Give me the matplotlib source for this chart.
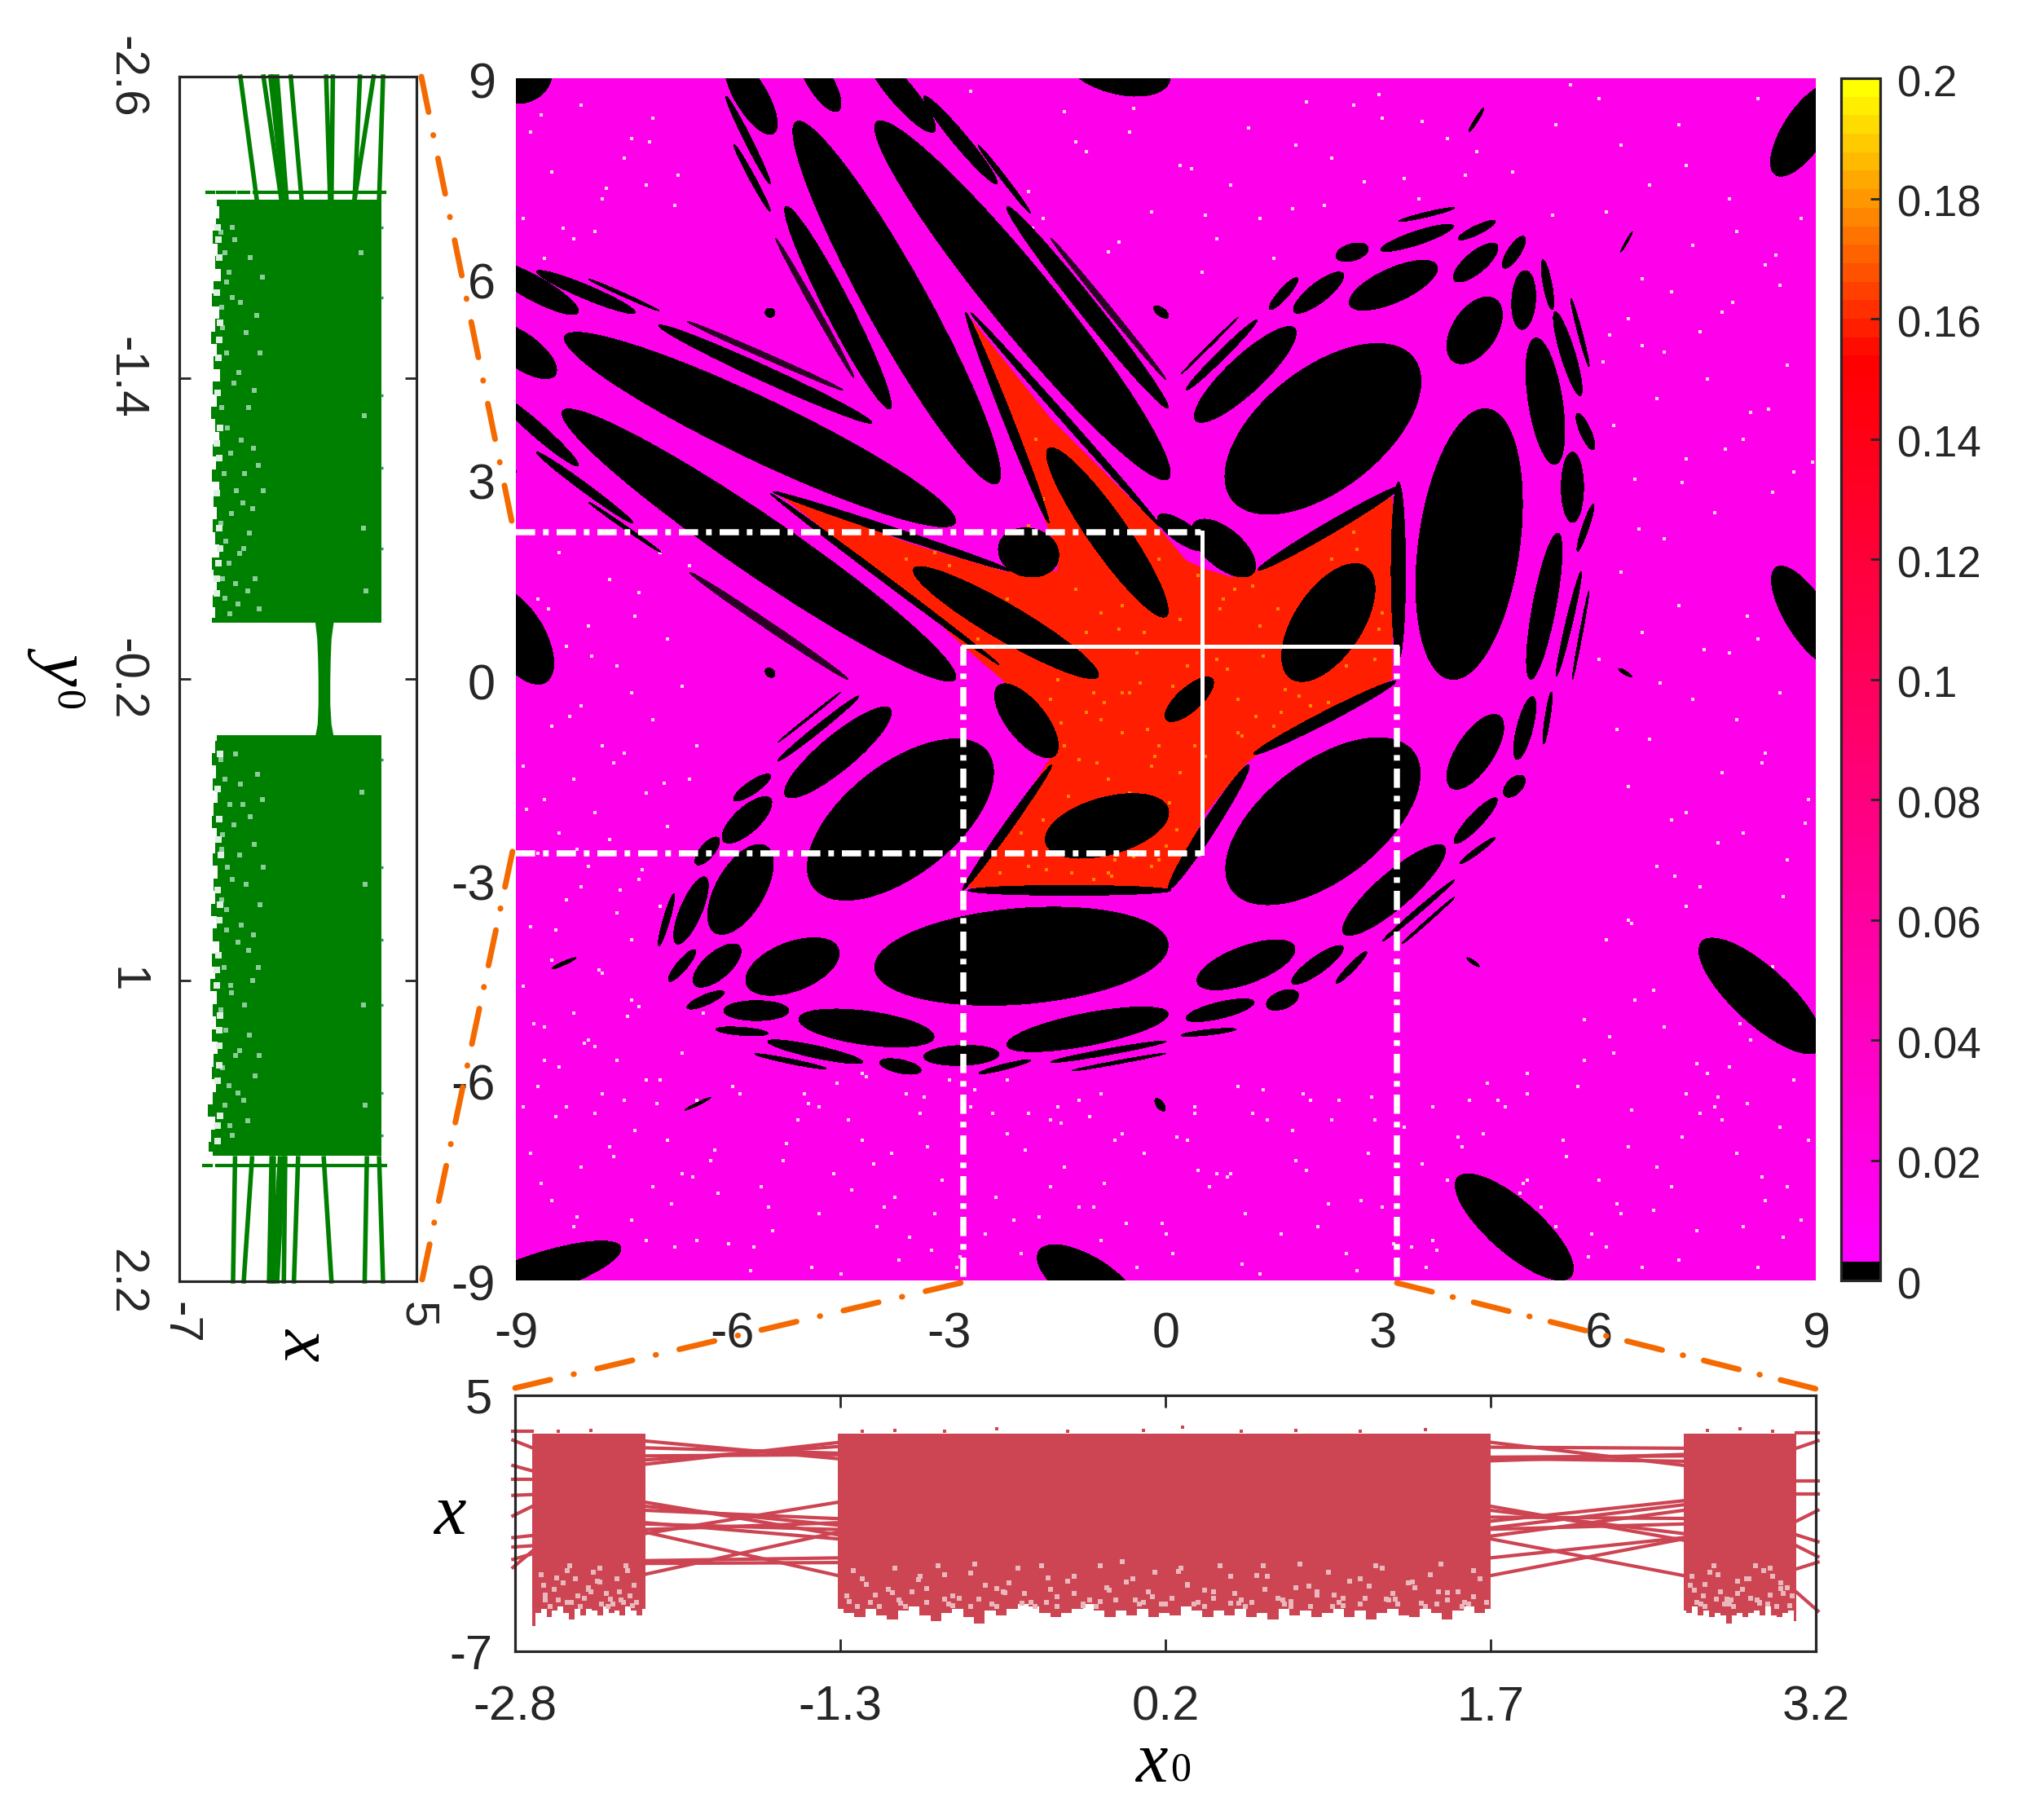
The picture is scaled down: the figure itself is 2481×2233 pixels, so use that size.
import numpy as np
import matplotlib
matplotlib.use("Agg")
import matplotlib.pyplot as plt
from matplotlib.cm import ScalarMappable
from matplotlib.colors import LinearSegmentedColormap, Normalize
from matplotlib.lines import Line2D
from matplotlib.patches import Ellipse, Polygon
from matplotlib.transforms import ScaledTranslation

plt.rcParams['font.family'] = ['Liberation Sans', 'DejaVu Sans']
plt.rcParams['mathtext.fontset'] = 'custom'
plt.rcParams['mathtext.it'] = 'Liberation Serif:italic'
plt.rcParams['mathtext.rm'] = 'Liberation Serif'
plt.rcParams['lines.scale_dashes'] = False

W, H = 2481, 2233
DARK = '#262626'
GREEN = '#008000'
ROSE = '#CD4452'
ORANGE = '#F56A00'

# ---- main map values
chaotic_value = 0.016
island_value = 0.0
attractor_value = 0.159
noise_value = 0.176

# periodic islands: x1, y1, x2, y2 (ends of long axis), full minor width
islands_upper = [
    (-5.115, 8.35, -2.34, 2.93, 0.85), (-4.0, 8.35, 0.03, 3.0, 0.9),
    (-5.26, 7.08, -3.82, 4.05, 0.36), (-3.35, 8.73, -2.34, 7.42, 0.2),
    (-2.6, 8.0, -1.875, 6.98, 0.07), (-6.05, 9.3, -5.44, 8.17, 0.45),
    (-6.09, 8.73, -5.48, 7.42, 0.1), (-5.98, 8.01, -5.48, 7.01, 0.08),
    (-5.04, 9.4, -4.54, 8.51, 0.35), (-4.14, 9.4, -3.21, 8.2, 0.35),
    (-1.4, 9.4, 0.05, 8.95, 0.8), (-9.4, 9.15, -8.5, 9.05, 0.95),
    (-2.2, 7.08, 0.03, 4.06, 0.26),
    (-8.71, 6.11, -7.35, 5.49, 0.2), (-7.99, 5.99, -7.02, 5.52, 0.05),
    (-9.4, 6.25, -8.14, 5.49, 0.35), (-8.32, 5.14, -2.92, 2.34, 0.9),
    (-7.02, 5.3, -4.07, 3.84, 0.22),
    (-8.35, 4.02, -2.92, 0.0, 0.85), (-9.4, 5.3, -8.46, 4.55, 0.5),
    (-9.3, 4.3, -8.14, 3.2, 0.2), (-8.71, 3.4, -7.38, 2.34, 0.12),
    (-7.99, 2.65, -6.99, 1.9, 0.05),
    (-9.35, 1.35, -8.6, -0.05, 0.75), (-9.3, 3.4, -9.0, 3.1, 0.1),
]
islands_hatched = [
    (-1.59, 6.6, 0.0, 4.49, 0.08), (-5.4, 6.6, -4.32, 4.52, 0.08),
    (-6.63, 5.36, -4.47, 4.33, 0.08), (-6.59, 1.6, -4.4, 0.0, 0.11),
]
islands_attractor = [
    (-1.62, 3.46, 0.0, 0.94, 0.55), (-3.49, 1.66, -0.94, 0.04, 0.52),
    (-2.3, 2.05, -1.5, 1.75, 0.72), (0.4, 2.35, 1.2, 1.58, 0.55),
    (-0.1, 2.45, 0.55, 1.95, 0.3),
    (1.75, 0.0, 2.75, 1.7, 0.95), (0.01, -0.61, 0.64, 0.01, 0.34),
    (-1.66, -2.46, 0.03, -1.93, 0.85), (-2.31, -0.09, -1.55, -1.15, 0.55),
    (1.28, 1.64, 3.25, 2.89, 0.17), (3.22, 2.95, 3.22, 0.3, 0.2),
    (1.22, -1.12, 3.18, -0.03, 0.17), (0.04, -3.14, 1.15, -1.28, 0.2),
    (-2.74, -3.16, 0.07, -3.16, 0.15), (-2.81, -3.15, -1.58, -1.28, 0.12),
    (-2.77, 5.49, -1.62, 2.34, 0.13), (-2.7, 5.49, -0.07, 2.28, 0.1),
    (-5.44, 2.81, -2.13, 1.62, 0.12), (-5.47, 2.78, -2.31, 0.22, 0.09),
]
islands_right = [
    (0.95, 2.65, 3.4, 4.85, 1.75), (4.45, 4.05, 3.95, 0.0, 1.4),
    (0.95, -3.2, 3.4, -1.05, 1.7), (0.42, 3.87, 1.78, 5.26, 0.52),
    (0.28, 4.33, 1.26, 5.38, 0.12), (0.21, 4.57, 1.0, 5.42, 0.03),
    (2.55, 5.6, 3.75, 6.2, 0.5), (1.78, 5.5, 2.45, 6.08, 0.28),
    (1.44, 5.54, 1.82, 6.01, 0.14), (2.36, 6.32, 2.8, 6.47, 0.25),
    (2.98, 6.43, 3.98, 6.79, 0.2), (3.23, 6.86, 4.0, 7.06, 0.07),
    (4.05, 6.59, 4.56, 6.86, 0.13), (4.0, 5.97, 4.58, 6.51, 0.3),
    (4.68, 6.16, 4.96, 6.63, 0.18), (4.0, 4.75, 4.55, 5.7, 0.62),
    (4.93, 5.24, 4.98, 6.12, 0.33), (5.22, 6.28, 5.35, 5.54, 0.12),
    (5.39, 5.5, 5.74, 4.25, 0.2), (5.61, 5.7, 5.86, 4.68, 0.06),
    (5.12, 5.11, 5.39, 3.22, 0.47), (5.7, 3.98, 5.92, 3.44, 0.15),
    (5.63, 3.4, 5.63, 2.35, 0.31), (5.7, 1.92, 5.92, 2.62, 0.09),
    (5.05, 0.0, 5.43, 2.19, 0.32), (5.41, 0.05, 5.75, 1.61, 0.09),
    (5.63, 0.0, 5.86, 1.33, 0.04), (4.86, -1.2, 5.08, -0.26, 0.22),
    (5.23, -0.97, 5.34, -0.19, 0.07), (3.96, -1.63, 4.61, -0.54, 0.52),
    (4.7, -1.75, 4.95, -1.45, 0.22), (4.0, -2.45, 4.58, -1.78, 0.2),
    (4.07, -2.76, 4.56, -2.37, 0.08), (2.47, -3.81, 3.85, -2.5, 0.5),
    (3.0, -3.92, 4.0, -3.0, 0.07), (3.27, -3.96, 4.0, -3.26, 0.04),
    (0.44, -4.55, 1.78, -4.0, 0.55), (1.75, -4.55, 2.45, -4.0, 0.24),
    (2.36, -4.55, 2.78, -4.08, 0.1),
]
islands_lower = [
    (-4.85, -3.15, -2.5, -1.05, 1.6), (-4.03, -4.33, 0.03, -3.96, 1.43),
    (-5.26, -1.75, -3.82, -0.44, 0.5), (-5.37, -1.22, -4.25, -0.25, 0.1),
    (-5.37, -0.94, -4.5, -0.19, 0.03), (-5.98, -1.81, -5.48, -1.43, 0.18),
    (-6.12, -2.43, -5.48, -1.78, 0.36), (-6.5, -2.77, -6.2, -2.37, 0.2),
    (-6.23, -3.8, -5.55, -2.49, 0.68), (-6.77, -3.96, -6.38, -2.96, 0.3),
    (-7.02, -3.99, -6.81, -3.21, 0.09), (-6.88, -4.52, -6.52, -4.05, 0.15),
    (-6.52, -4.58, -5.91, -3.99, 0.38), (-5.8, -4.58, -4.54, -4.02, 0.72),
    (-6.63, -4.92, -6.12, -4.68, 0.15), (-6.12, -4.96, -5.22, -4.96, 0.3),
    (-5.08, -5.08, -3.21, -5.36, 0.5), (-6.23, -5.24, -5.51, -5.3, 0.12),
    (-5.51, -5.42, -4.2, -5.73, 0.18), (-5.69, -5.61, -4.7, -5.83, 0.07),
    (-3.96, -5.73, -3.39, -5.86, 0.2), (-3.35, -5.65, -2.31, -5.61, 0.3),
    (-2.59, -5.9, -1.87, -5.7, 0.08), (-2.2, -5.48, 0.03, -5.0, 0.48),
    (-1.59, -5.73, 0.0, -5.42, 0.09), (-1.3, -5.86, 0.0, -5.6, 0.05),
    (0.21, -5.33, 0.97, -5.24, 0.08), (0.28, -5.08, 1.22, -4.83, 0.24),
    (1.4, -4.9, 1.83, -4.7, 0.26),
]
islands_outer = [
    (-9.8, -9.3, -7.55, -8.5, 0.6), (-1.75, -8.55, -0.4, -9.5, 0.72),
    (7.43, -3.92, 9.05, -5.56, 0.8), (4.05, -7.45, 5.6, -8.95, 0.75),
    (8.45, 7.55, 9.25, 8.9, 0.6), (8.46, 1.68, 9.3, 0.2, 0.6),
    (-5.53, 5.54, -5.43, 5.44, 0.13), (-5.53, 0.16, -5.43, 0.04, 0.12),
    (-0.16, 5.58, 0.03, 5.42, 0.12), (-0.14, -6.28, -0.02, -6.46, 0.1),
    (-8.5, -4.33, -8.17, -4.17, 0.05), (-6.66, -6.45, -6.3, -6.26, 0.04),
    (6.3, 6.4, 6.46, 6.7, 0.03), (4.2, 8.2, 4.4, 8.55, 0.05),
    (6.27, 0.16, 6.45, 0.04, 0.05), (4.17, -4.17, 4.34, -4.3, 0.05),
]

attractor_x = [-5.33, -3.53, -2.24, -1.51, -1.48, -1.88, -2.31, -2.70, -1.59, -0.15, 0.28,
               0.55, 0.91, 1.44, 3.14, 3.14, 1.44, 1.13, 0.55, 0.24, 0.04, 0.0, -2.74,
               -1.66, -1.52, -2.24, -2.81, -3.39]
attractor_y = [2.75, 2.03, 1.62, 1.62, 1.84, 2.96, 4.21, 5.40, 3.90, 2.34, 1.78,
               1.65, 1.53, 1.68, 2.74, 0.01, -1.0, -1.24, -2.0, -2.72, -3.15, -3.12, -3.12,
               -1.28, -1.03, -0.03, 0.5, 1.1]

speck_x = [-8.7, -8.1, -7.4, -6.9, -6.2, -5.7, -5.1, -4.6, -4.0, -3.3, -2.9, -2.2, -1.6, -0.9, -0.3, 0.4, 1.1, 1.8, 2.5, 3.3,
           3.9, 4.6, 5.2, 5.9, 6.4, 7.1, 7.7, 8.3, 8.8, -8.9, -8.3, -7.7, -7.1, -6.5, -5.9, -5.3, -4.8, -4.2, -3.7, -3.1,
           -2.5, -1.9, -1.2, -0.6, 0.1, 0.7, 1.4, 2.1, 2.8, 3.6, 4.2, 4.9, 5.5, 6.1, 6.8, 7.4, 8.0, 8.6, -8.5, -7.9,
           -7.2, -6.7, -6.0, -5.5, -4.9, -4.4, -3.8, -3.2, -2.7, -2.0, -1.4, -0.7, 0.0, 0.6, 1.3, 1.9, 2.7, 3.4, 4.1, 4.7,
           5.4, 6.0, 6.6, 7.2, 7.9, 8.5, -8.8, -8.2, -7.5, -6.8, -6.3, -5.6, -5.0, -4.5, -3.9, -3.4, -2.8, -2.1, -1.5, -1.0,
           -0.4, 0.3, 0.9, 1.6, 2.3, 3.0, 3.7, 4.4, 5.0, 5.7, 6.3, 7.0, 7.6, 8.2, 8.9,
           6.2, 6.9, 7.5, 8.1, 8.7, 6.5, 7.2, 7.8, 8.4, 6.1, 6.8, 7.4, 8.0, 8.6, 6.4, 7.0, 7.7, 8.3, 8.9, 6.7,
           7.3, 7.9, 8.5, 6.0, 6.6, 7.1, 7.8, 8.2, 8.8, 6.3, 6.9, 7.6, 8.4, 6.5, 7.2, 8.0, 8.7, 6.2, 6.8, 7.5,
           8.1, 6.9, 7.4, 8.6, 6.4, 7.0, 7.7, 8.3, 6.6, 7.3, 7.9, 8.5, 6.1, 6.7, 7.2, 7.8, 8.8, 6.3, 7.1, 8.2,
           -8.8, -8.1, -7.4, -8.5, -7.8, -7.1, -8.9, -8.2, -7.5, -6.8, -8.6, -7.9, -7.2, -8.4, -7.7, -7.0, -8.7, -8.0, -7.3, -6.6,
           -8.3, -7.6, -6.9, -8.8, -8.1, -7.4, -6.7, -8.5, -7.8, -7.1, -8.9, -8.2, -7.5, -6.5, -8.6, -7.9, -7.2, -6.6, -8.4, -7.7,
           -8.7, -8.0, -7.3, -6.9, -8.3, -7.6, -8.8, -8.1, -7.4, -8.5, -7.8, -7.0, -8.9, -8.2, -8.6, -7.9, -7.3, -8.4, -7.6, -8.7,
           -7.0, -6.5, -8.3, -7.8, -7.2, -6.7, -8.6, -8.0, -7.4, -6.4, -2.4, -1.6, -0.9, 0.4, 1.2, 2.0, 2.9, 3.7, 5.0, 5.8,
           -1.9, -1.1, -0.2, 0.7, 1.5, 2.3, 3.3, 4.3, 5.4, 6.0, -2.7, -1.4, -0.5, 0.2, 0.9, 1.8, 2.6, 3.5, 4.8, 5.6,
           -1.7, -0.8, 0.5, 1.3, 2.2, 3.0, 3.9, 6.6, -4.2, -3.6, -3.0, -4.8, -2.2, -1.2, 1.0, 2.4, 5.0, 5.8, 6.4, 7.2]
speck_y = [-8.7, -7.3, -8.1, -6.9, -7.7, -8.5, -6.6, -7.4, -8.2, -7.0, -8.8, -6.8, -7.6, -8.4, -7.1, -6.5, -8.0, -7.2, -8.6, -6.7,
           -7.5, -6.3, -7.9, -8.3, -7.0, -8.7, -6.6, -7.8, -8.1, -6.4, -8.9, -7.0, -7.6, -8.4, -6.2, -7.2, -8.0, -6.9, -8.7, -7.5,
           -8.3, -6.5, -7.9, -6.8, -8.6, -7.4, -6.6, -8.2, -7.1, -8.8, -6.3, -7.7, -6.9, -8.5, -7.3, -6.5, -8.2, -7.6, -7.8, -6.5,
           -8.4, -7.4, -6.1, -7.9, -8.8, -6.6, -7.1, -8.0, -6.4, -8.6, -7.3, -6.9, -8.3, -7.6, -8.9, -6.2, -7.8, -8.5, -7.0, -6.4,
           -8.2, -7.5, -8.8, -6.2, -7.1, -6.7, -7.1, -8.2, -6.3, -8.5, -7.2, -7.6, -6.2, -8.9, -7.9, -6.5, -7.7, -8.1, -6.4, -7.9,
           -8.8, -6.9, -7.4, -8.3, -6.6, -7.9, -8.4, -6.8, -7.5, -6.1, -8.0, -7.6, -6.4, -8.8, -6.9,
           -5.6, -5.2, -5.9, -5.4, -6.0, -4.8, -3.4, -5.8, -4.3, -3.9, -2.8, -3.1, -2.3, -2.7, -1.6, -2.1, -1.4, -1.1, -1.8, -0.9,
           -0.3, -0.6, -0.2, 0.3, 0.7, 1.1, 0.4, 0.6, 1.2, 1.6, 2.1, 2.5, 2.8, 3.0, 3.3, 3.6, 3.1, 3.8, 4.2, 4.5,
           4.0, 4.9, 5.2, 4.7, 5.4, 5.8, 5.5, 6.2, 6.0, 6.5, 6.7, 5.9, 7.0, 7.4, 7.7, 7.2, 6.9, 8.0, 8.3, 8.7,
           8.2, 8.6, 8.1, 7.6, 7.2, 8.4, 6.9, 6.6, 7.8, 7.1, 6.3, 6.7, 7.4, 1.9, 1.5, 1.9, 1.2, 0.8, 1.3, 1.7,
           0.5, 0.2, 0.6, 0.0, -0.4, -0.2, -0.1, -0.7, -1.0, -0.6, -1.3, -1.5, -1.1, -1.0, -1.8, -2.0, -1.7, -1.5, -2.3, -2.4,
           -2.6, -2.8, -3.0, -2.2, -3.3, -3.5, -3.7, -3.1, -3.9, -4.2, -4.4, -3.4, -4.6, -5.0, -5.2, -5.5, -4.9, -5.8, -5.7, -6.1,
           -6.0, -6.3, -6.4, -6.2, -6.0, -5.6, -5.7, -5.4, -4.8, -5.0, -6.5, -6.6, -6.2, -6.4, -6.5, -6.3, -6.6, -6.4, -6.2, -5.7,
           7.3, 7.9, 7.0, 6.6, 6.3, 7.8, 7.5, 7.9, 8.3, 8.7, 8.8, 8.5, 8.2, 7.7, 7.4, 8.0, 8.6, 7.2, 7.6, 8.9,
           6.9, 6.4, 6.1, 6.9, 7.1, 8.4, 8.1, 5.0, -5.9, -6.2, -6.0, -6.4, -6.0, -6.3, -6.1, -6.3, -5.9, -5.1, -3.6, -2.0]
speck2_x = [-8.45, -7.65, -6.85, -6.05, -5.25, -4.35, -3.55, -2.65, -1.75, -0.85, 0.15, 1.05, 1.95, 2.85, 3.75, 4.65, 5.55, 6.45, 7.35, 8.25,
            -8.15, -7.35, -6.55, -5.75, -4.95, -4.05, -3.25, -2.35, -1.45, -0.55, 0.45, 1.35, 2.25, 3.15, 4.05, 4.95, 5.85, 6.75, 7.65, 8.55,
            -8.65, -7.85, -7.05, -6.25, -5.45, -4.55, -3.75, -2.85, -1.95, -1.05, -0.05, 0.85, 1.75, 2.65, 3.55, 4.45, 5.35, 6.25, 7.15, 8.05,
            6.15, 6.75, 7.35, 7.95, 8.55, 6.45, 7.05, 7.65, 8.25, 8.85, 6.25, 6.85, 7.45, 8.05, 8.65, 6.55, 7.15, 7.75, 8.35, 6.05,
            -8.55, -7.95, -7.35, -8.25, -7.65, -8.85, -8.15, -7.55, -6.95, -8.45, -7.85, -7.25, -8.75, -8.05, -7.45, -8.35, -7.75, -7.15, -6.75, -8.65,
            -1.25, -0.45, 0.35, 1.15, 1.95, 2.75, 3.55, -1.85, -0.65, 0.55, 1.75, 2.95, 4.15, 5.35, -3.35, -4.15, 6.15, 7.85, 8.45, 8.95]
speck2_y = [-6.55, -7.15, -7.85, -8.45, -6.95, -7.65, -8.35, -6.15, -8.05, -7.55, -6.85, -8.75, -7.35, -6.25, -8.55, -7.95, -7.15, -6.45, -8.25, -7.45,
            -8.05, -6.75, -7.45, -8.85, -6.35, -7.25, -8.55, -7.75, -6.65, -8.15, -7.35, -6.15, -7.85, -8.45, -6.85, -7.55, -8.65, -7.95, -6.25, -8.35,
            -7.55, -8.75, -6.35, -7.05, -8.25, -6.05, -7.75, -8.65, -7.05, -6.55, -8.15, -7.45, -6.75, -8.85, -7.25, -6.05, -8.45, -7.85, -6.85, -6.35,
            -5.35, -4.65, -5.75, -5.15, -3.25, -3.65, -2.95, -2.45, -1.25, -2.15, -0.75, -0.05, 0.45, 0.95, 1.45, 2.25, 2.95, 3.45, 4.05, 4.75,
            1.05, 0.35, 0.95, -0.55, -1.25, -1.95, -2.55, -3.15, -1.55, -3.75, -4.35, -2.85, -5.15, -5.45, -5.05, 6.75, 7.35, 8.05, 7.55, 8.45,
            8.05, 8.55, 7.65, 8.25, 8.65, 7.45, 8.35, 6.75, 6.55, 6.95, 7.05, 8.75, 7.55, 6.95, -6.25, -5.95, 5.15, 5.65, 6.35, 3.25]
noise_x = [-3.6, -3.1, -2.6, -2.0, -1.5, -1.0, -0.4, 0.2, 0.8, 1.3, 1.8, 2.3, 2.8, 3.0, 2.5, 2.0, 1.5, 1.0, 0.5, -0.1,
           -0.6, -1.2, -0.8, -0.2, 0.4, 1.0, 1.6, 2.2, 2.9, 2.6, 2.1, 1.2, 0.7, 0.3, -0.3, -0.9, -1.4, -1.1, -0.5, 0.1,
           -1.8, -1.4, -0.9, -0.4, 0.2, -1.6, -1.0, -0.6, -0.1, -2.3, -1.9, -1.3, -0.7, -0.2, -1.7, -1.2, -0.5, 0.0, -1.0, -2.0,
           -2.2, -1.5, -0.8, -0.3, -1.1, -2.4, -1.9, -1.2, -0.6, -0.1, -3.2, -2.7, -3.0, -2.5, -2.2, -1.8, -1.6, -1.2, -2.0, -1.7,
           -1.45, -0.95, -0.35, 0.25, 0.85, 1.35, 1.85, 2.45, 2.95, 2.65, 2.15, 1.55, 0.95, 0.35, -0.25, -0.85, -1.35, -1.05, -0.55, 0.05,
           0.75, 1.25, 1.75, 2.35, 2.85, 0.55, 1.05, 1.65, 2.25, 2.75, 0.15, -0.45, -1.15, -1.65, -0.75, -0.15, 0.45, -1.25, -0.65, -0.05]
noise_y = [1.8, 1.5, 0.6, 0.9, 0.2, -0.2, 0.4, 0.9, 1.2, 0.8, 0.5, 1.8, 1.6, 1.0, 0.2, -0.4, -0.7, -0.3, -0.6, -1.0,
           -0.8, -1.2, -1.5, -1.3, -1.0, -0.8, -0.5, 0.1, 0.3, 2.2, 1.3, 1.4, 0.3, 0.2, 0.7, 1.0, 0.5, -0.5, -0.2, -0.1,
           -1.6, -1.0, -0.6, -2.0, -1.4, -0.3, -1.9, -0.2, -2.7, -2.9, -2.8, -2.9, -2.7, -2.8, -2.1, -2.6, -1.7, -2.5, -3.0, -2.3,
           0.6, 0.0, -2.9, 0.5, 0.7, 0.8, 2.3, 2.8, 1.1, 1.8, 1.9, 1.1, 1.7, 1.3, 1.2, 3.6, 4.2, 3.0, 3.3, 2.7,
           -0.65, -1.25, -0.05, -0.35, 0.15, 0.35, -0.25, 0.55, 0.75, 1.95, 0.95, 1.05, 1.35, -0.45, -0.75, -0.35, -1.75, 0.25, -1.75, -1.85,
           1.05, -0.55, 0.25, 1.15, 1.25, -1.15, -0.85, -0.15, -0.35, 1.65, -2.25, -2.65, -2.45, -2.85, -2.95, -1.15, 1.55, 1.35, 0.75, -2.05]

hline_solid_y = 0.5
vline_solid_x = 0.5
rect_top_y = 2.2
rect_bottom_y = -2.6
rect_left_x = -2.8
rect_right_x = 3.2

# ---- colorbar
cb_ticks = [0, 0.02, 0.04, 0.06, 0.08, 0.1, 0.12, 0.14, 0.16, 0.18, 0.2]
cb_labels = ['0', '0.02', '0.04', '0.06', '0.08', '0.1', '0.12', '0.14', '0.16', '0.18', '0.2']
map_ticks = [-9, -6, -3, 0, 3, 6, 9]
map_labels = ['-9', '-6', '-3', '0', '3', '6', '9']

# ---- left panel (x against y0)
left_yticks = [-2.6, -1.4, -0.2, 1, 2.2]
left_ylabels = ['-2.6', '-1.4', '-0.2', '1', '2.2']
left_xticks = [-7, 5]
left_xlabels = ['-7', '5']
green_top_start = [-3.91, -2.74, -2.39, -2.26, -2.05, -1.36, 0.43, 0.77, 2.14, 2.83, 3.31]
green_top_end = [-3.08, -1.84, -1.71, -1.64, -1.57, -0.81, 0.63, 0.70, 1.87, 1.87, 3.11]
green_bot_start = [-4.18, -3.32, -2.33, -2.22, -1.91, -1.71, -1.64, -0.99, 0.31, 2.49, 3.11]
green_bot_end = [-4.28, -3.74, -2.46, -2.26, -2.26, -2.05, -1.71, -1.2, 0.7, 2.38, 3.31]
green_row_top = [(-5.6, -5.25), (-5.05, -4.7), (-4.55, -4.2), (-4.0, -3.5), (-3.2, 3.4)]
green_row_bot = [(-5.75, -5.4), (-5.1, 3.45)]
green_y_top, green_y_bot = -2.14, 1.74
neck_y = [-0.43, -0.36, -0.28, -0.2, -0.1, -0.02, 0.03]
neck_left = [-0.14, -0.04, 0.0, 0.02, 0.02, -0.02, -0.14]
neck_right = [0.8, 0.68, 0.64, 0.62, 0.62, 0.68, 0.8]
band1_y = [-2.11, -2.06, -2.01, -1.96, -1.91, -1.86, -1.81, -1.76, -1.71, -1.66, -1.61, -1.56, -1.51, -1.46, -1.41, -1.36,
           -1.31, -1.26, -1.21, -1.16, -1.11, -1.06, -1.01, -0.96, -0.91, -0.86, -0.81, -0.76, -0.71, -0.66, -0.61, -0.56, -0.51, -0.46, -0.425]
band1_left = [-5.1, -5.0, -5.15, -5.3, -5.05, -5.2, -4.9, -5.25, -5.35, -5.0, -5.2, -5.4, -5.1, -5.25, -4.95, -5.3,
              -5.1, -5.38, -5.2, -5.0, -5.3, -5.15, -5.35, -5.0, -5.25, -5.1, -5.3, -5.2, -5.0, -5.35, -5.25, -5.1, -5.3, -5.2, -5.35]
band2_y = [0.025, 0.07, 0.12, 0.17, 0.22, 0.27, 0.32, 0.37, 0.42, 0.47, 0.52, 0.57, 0.62, 0.67, 0.72, 0.77, 0.82, 0.87,
           0.92, 0.97, 1.02, 1.07, 1.12, 1.17, 1.22, 1.27, 1.32, 1.37, 1.42, 1.47, 1.52, 1.57, 1.62, 1.67, 1.7]
band2_left = [-5.1, -5.2, -5.35, -5.15, -5.3, -5.05, -5.25, -5.35, -5.1, -5.2, -5.32, -5.05, -5.28, -5.18, -5.38, -5.12, -5.3, -5.0,
              -5.36, -5.2, -5.42, -5.1, -5.3, -5.16, -5.36, -5.05, -5.25, -5.35, -5.15, -5.3, -5.55, -5.2, -5.4, -5.5, -5.3]
green_nub_y = [-2.0, -1.72, -1.33, -1.04, -0.72, 0.12, 0.55, 0.84, 1.1, 1.45, 1.62]
green_speck_x = [-4.9, -4.7, -4.5, -4.2, -3.9, -3.4, -3.1, -2.8, -4.8, -4.6, -4.3, -4.0, -3.6, -3.2, -2.9, -4.85, -4.55, -4.25, -3.85, -3.5,
                 -3.0, -4.75, -4.4, -4.1, -3.7, -3.3, -4.9, -4.65, -4.35, -3.95, -3.45, -2.75, -4.8, -4.5, -4.15, -3.75, -3.15, -4.7, -4.45, -4.05,
                 -3.55, -2.95, -4.85, -4.6, -4.3, -3.8, -3.25, 2.2, 2.35, 2.3, 2.45,
                 -4.9, -4.7, -4.45, -4.15, -3.9, -3.4, -3.05, -2.8, -4.8, -4.55, -4.25, -3.95, -3.6, -3.2, -2.9, -4.85, -4.6, -4.3, -3.85, -3.5,
                 -3.0, -4.75, -4.4, -4.05, -3.7, -3.3, -4.9, -4.65, -4.35, -3.95, -3.45, -2.75, -4.8, -4.5, -4.15, -3.75, -3.15, -4.7, -4.45, -4.05,
                 -3.55, -2.95, -4.85, -4.6, -4.3, -3.8, -3.25, 2.25, 2.4, 2.3, 2.4]
green_speck_y = [-1.98, -1.9, -1.82, -1.95, -1.7, -1.88, -1.65, -1.8, -1.6, -1.5, -1.72, -1.42, -1.58, -1.35, -1.5, -1.28, -1.2, -1.38, -1.15, -1.28,
                 -1.05, -1.02, -1.1, -0.95, -1.02, -0.88, -0.82, -0.75, -0.86, -0.7, -0.78, -0.95, -0.6, -0.66, -0.58, -0.72, -0.6, -0.52, -0.46, -0.5,
                 -0.55, -0.48, -1.68, -1.78, -2.0, -0.9, -1.12, -1.9, -1.25, -0.8, -0.55,
                 0.12, 0.2, 0.3, 0.1, 0.22, 0.35, 0.18, 0.28, 0.42, 0.55, 0.38, 0.5, 0.62, 0.46, 0.7, 0.68, 0.8, 0.6, 0.78, 0.88,
                 0.95, 0.95, 1.02, 0.85, 1.1, 1.0, 1.12, 1.2, 1.05, 1.28, 1.22, 0.55, 1.35, 1.42, 1.3, 1.48, 1.38, 1.5, 1.58, 1.45,
                 1.56, 1.3, 0.48, 0.72, 1.62, 0.3, 0.82, 0.25, 0.62, 1.1, 1.5]
green_gap_x = [-5.05, -4.98, -5.1, -4.95, -5.02, -5.08, -4.92, -5.0, -5.12, -4.96, -5.04, -5.1, -4.94, -5.06, -5.0, -4.9, -5.08, -4.97,
               -5.03, -5.11, -4.93, -5.0, -5.07, -4.95, -5.05, -4.98, -5.1, -4.94, -5.02, -5.09, -4.96, -5.04, -5.12, -4.92, -5.0, -5.06]
green_gap_y = [-2.0, -1.88, -1.74, -1.62, -1.48, -1.34, -1.2, -1.08, -0.94, -0.8, -0.66, -0.54, 0.1, 0.24, 0.36, 0.5, 0.64, 0.76,
               0.9, 1.02, 1.14, 1.26, 1.4, 1.54, 1.64, -1.55, -1.14, -0.72, 0.44, 0.96, 1.34, -1.95, -0.6, 0.7, 1.2, 1.58]

# ---- bottom panel (x0 against x)
bot_xticks = [-2.8, -1.3, 0.2, 1.7, 3.2]
bot_xlabels = ['-2.8', '-1.3', '0.2', '1.7', '3.2']
bot_yticks = [-7, 5]
bot_ylabels = ['-7', '5']
block_top = 3.2
block1_x = (-2.72, -2.2)
block2_x = (-1.31, 1.7)
block3_x = (2.59, 3.11)
block1_bottom = [-5.8, -5.2, -5.0, -5.4, -5.1, -4.9, -5.2, -5.5, -5.0, -5.3, -5.0, -5.1, -5.3, -4.9, -5.2, -5.1, -5.3, -4.9, -5.1, -5.3, -5.0]
block2_bottom = [-5.0, -5.2, -5.4, -5.0, -5.3, -5.5, -5.1, -4.9, -5.3, -5.6, -5.2, -5.0, -5.4, -5.7, -5.1, -5.3, -5.0, -4.8, -4.9, -5.2, -5.4,
                 -5.2, -5.0, -4.8, -5.1, -5.4, -5.1, -5.3, -5.0, -5.4, -5.2, -5.3, -4.9, -5.1, -5.4, -5.1, -5.3, -5.0, -5.4, -5.2, -5.5,
                 -5.0, -5.3, -5.1, -5.4, -5.2, -5.0, -5.4, -5.1, -5.5, -5.2, -5.0, -5.3, -5.4, -5.0, -5.2, -5.5, -5.1, -4.9, -5.2, -5.0]
block3_bottom = [-5.1, -5.2, -4.9, -5.3, -5.1, -5.4, -5.2, -5.3, -5.7, -5.3, -5.2, -5.4, -5.2, -5.1, -5.3, -4.9, -5.3, -5.4, -5.2, -5.1, -5.6]
gap1_left = [2.86, 2.54, 1.77, 1.97, 2.16, -0.01, -0.2, -0.39, -1.03, -1.29, -1.48, -0.97, -1.41, -2.75, -2.88, -3.39]
gap1_right = [2.03, 2.29, 2.79, 2.6, 2.22, -1.54, -1.09, -0.78, -1.29, -0.97, -0.01, -1.73, -3.45, -2.62, -2.84, -1.41]
gap2_left = [2.8, 2.57, 2.1, 2.04, 1.93, -0.2, -0.39, -0.71, -0.9, -1.22, -1.6, -1.28, -1.73, -2.62, -3.45]
gap2_right = [1.72, 2.52, 2.16, 1.91, 2.23, -1.79, -1.48, -0.77, 0.06, -0.13, -0.39, -1.03, -3.45, -1.67, -1.73]
stub_left_a = [3.3, 2.9, 1.71, 1.07, 0.31, -0.65, -1.67, -2.11, -3.07, -2.69]
stub_left_b = [3.3, 2.54, 1.46, 1.07, 0.35, -0.2, -1.57, -2.05, -2.3, -2.43]
stub_right_a = [3.25, 2.52, 0.99, 0.36, -0.9, -1.54, -2.05, -3.14, -4.22]
stub_right_b = [3.25, 2.87, 0.99, 0.36, -0.39, -1.86, -2.56, -2.82, -5.11]
rose_speck_x = [-2.68, -2.62, -2.55, -2.48, -2.42, -2.35, -2.28, -2.66, -2.58, -2.5, -2.44, -2.38, -2.3, -2.25, -2.64, -2.56, -2.46, -2.4, -2.33, -2.27,
                -2.6, -2.52, -2.45, -2.37, -2.29, -2.67, -2.54, -2.41, -2.32, -2.24,
                -1.27, -1.2, -1.12, -1.05, -0.97, -0.9, -0.82, -0.75, -0.68, -0.6, -0.52, -0.45, -0.37, -0.3, -0.22, -0.15, -0.07, 0.0, 0.08, 0.15,
                0.23, 0.3, 0.38, 0.45, 0.52, 0.6, 0.67, 0.75, 0.82, 0.9, 0.97, 1.05, 1.12, 1.2, 1.27, 1.35, 1.42, 1.5, 1.57, 1.65,
                -1.24, -1.16, -1.08, -1.0, -0.93, -0.85, -0.78, -0.7, -0.63, -0.55, -0.48, -0.4, -0.33, -0.25, -0.18, -0.1, -0.03, 0.05, 0.12, 0.2,
                0.27, 0.35, 0.42, 0.5, 0.57, 0.65, 0.72, 0.8, 0.87, 0.95, 1.02, 1.1, 1.17, 1.25, 1.32, 1.4, 1.47, 1.55, 1.62, 1.68,
                -1.22, -1.03, -0.8, -0.58, -0.35, -0.12, 0.1, 0.33, 0.55, 0.78, 1.0, 1.23, 1.45, 1.6,
                2.63, 2.68, 2.73, 2.78, 2.84, 2.9, 2.96, 3.02, 3.07, 2.65, 2.71, 2.76, 2.82, 2.88, 2.93, 2.99, 3.05, 2.62, 2.69, 2.75,
                2.81, 2.86, 2.92, 2.98, 3.04, 3.09, 2.67, 2.8, 2.94, 3.0,
                -1.26, -1.14, -1.02, -0.9, -0.78, -0.66, -0.54, -0.42, -0.3, -0.18, -0.06, 0.06, 0.18, 0.3, 0.42, 0.54, 0.66, 0.78, 0.9, 1.02,
                1.14, 1.26, 1.38, 1.5, 1.62, -2.66, -2.56, -2.46, -2.36, -2.26, 2.64, 2.74, 2.84, 2.94, 3.04,
                -1.18, -1.06, -0.94, -0.82, -0.7, -0.58, -0.46, -0.34, -0.22, -0.1, 0.02, 0.14, 0.26, 0.38, 0.5, 0.62, 0.74, 0.86, 0.98, 1.1,
                1.22, 1.34, 1.46, 1.58, -2.61, -2.51, -2.41, -2.31, 2.69, 2.79, 2.89, 2.99, 3.08]
rose_speck_y = [-3.4, -4.1, -3.0, -4.5, -3.7, -4.8, -3.2, -4.6, -3.8, -4.9, -3.3, -4.3, -4.7, -3.9, -4.9, -3.2, -4.0, -4.8, -3.6, -4.4,
                -4.6, -3.6, -4.2, -4.9, -3.0, -3.9, -4.7, -3.1, -4.2, -4.7,
                -4.4, -3.6, -4.9, -3.1, -4.2, -4.7, -3.4, -4.5, -2.9, -4.8, -3.8, -4.3, -3.0, -4.9, -3.5, -4.6, -4.0, -2.8, -4.8, -3.3,
                -4.5, -3.9, -4.9, -3.0, -4.3, -4.7, -3.5, -4.8, -2.9, -4.2, -4.9, -3.7, -4.5, -3.1, -4.8, -4.0, -3.4, -4.6, -4.9, -3.6,
                -3.2, -4.7, -4.1, -4.9, -3.5, -3.0, -4.4, -4.9, -3.9, -4.2, -3.1, -4.9, -4.1, -3.7, -4.8, -3.0, -4.6, -3.6, -4.2, -4.8,
                -3.1, -4.7, -4.2, -3.5, -4.9, -3.0, -4.5, -4.0, -4.9, -3.3, -4.5, -4.8, -3.0, -4.3, -3.8, -4.9, -2.9, -4.2, -3.2, -4.7,
                -4.9, -4.6, -4.8, -4.9, -4.7, -4.9, -4.7, -4.8, -4.6, -4.9, -4.7, -4.6, -4.8, -4.8,
                -3.5, -4.4, -3.0, -4.8, -3.7, -4.5, -3.2, -4.9, -4.0, -4.7, -3.3, -4.2, -4.9, -3.6, -4.6, -3.1, -4.3, -3.9, -4.9, -3.4,
                -4.6, -4.1, -3.0, -4.8, -3.8, -4.4, -4.8, -4.8, -4.7, -3.5,
                -4.65, -4.35, -4.75, -4.05, -4.85, -4.55, -4.25, -4.7, -4.45, -4.85, -4.15, -4.6, -4.8, -3.85, -4.5, -4.75, -4.1, -4.65, -4.35, -4.85,
                -3.95, -4.55, -4.75, -4.25, -4.45, -4.35, -4.7, -4.1, -4.55, -4.85, -4.15, -4.55, -4.3, -4.75, -4.05,
                -3.85, -4.25, -3.65, -4.55, -3.35, -4.05, -4.75, -3.55, -4.3, -4.65, -3.75, -4.45, -3.25, -4.15, -4.75, -3.45, -4.6, -3.95, -4.35, -3.6,
                -4.55, -3.75, -4.2, -4.7, -3.55, -4.4, -3.75, -4.6, -3.85, -4.55, -3.6, -4.35, -4.85]
rose_nub_x = [-2.6, -2.45, -1.2, -1.05, -0.82, -0.58, -0.25, 0.1, 0.28, 0.55, 0.8, 1.1, 1.4, 2.7, 2.85, 3.0]
rose_nub_y = [3.3, 3.35, 3.3, 3.35, 3.3, 3.45, 3.3, 3.35, 3.5, 3.3, 3.35, 3.3, 3.4, 3.35, 3.45, 3.3]

# ---- connector guides, figure pixels, gap length chosen so each line ends on a dash
guide_x = [(517, 628), (518, 629), (632, 1179), (1714, 2228)]
guide_y = [(94, 640), (1570, 1044), (1703, 1574), (1574, 1704)]
guide_gap = [20.6, 19.2, 21.0, 18.7]


def place(x0, y0, x1, y1):
    return [x0 / W, 1 - y1 / H, (x1 - x0) / W, (y1 - y0) / H]


def draw_islands(ax, table, color, zorder):
    for x1, y1, x2, y2, minor in table:
        length = np.hypot(x2 - x1, y2 - y1)
        angle = np.degrees(np.arctan2(y2 - y1, x2 - x1))
        ax.add_patch(Ellipse(((x1 + x2) / 2, (y1 + y2) / 2), length, minor, angle=angle,
                             facecolor=color, edgecolor='none', antialiased=False, zorder=zorder))


def frame(ax):
    for sp in ax.spines.values():
        sp.set_linewidth(2.3)
        sp.set_color(DARK)


def nudge_labels(labels, dy):
    # labels sit a few pixels under the tick in the original
    for lab in labels:
        lab.set_transform(lab.get_transform() + ScaledTranslation(0, dy / 72, fig.dpi_scale_trans))


cmap = LinearSegmentedColormap.from_list(
    'map', [(0, '#000000'), (0.0154, '#000000'), (0.0155, '#FF00FF'), (0.77, '#FF0000'), (1, '#FFFF00')], N=65)
norm = Normalize(0, 0.2)

fig = plt.figure(figsize=(W / 100, H / 100), dpi=100)

# main map
ax = fig.add_axes(place(633, 96, 2228, 1571))
ax.set_xlim(-9, 9)
ax.set_ylim(-9, 9)
ax.set_facecolor(cmap(norm(chaotic_value)))
for sp in ax.spines.values():
    sp.set_visible(False)
ax.scatter(speck_x + speck2_x, speck_y + speck2_y, s=9, marker='s', color='#FFD8F8', linewidths=0, zorder=1)
ax.add_patch(Polygon(np.column_stack([attractor_x, attractor_y]), closed=True, facecolor=cmap(norm(attractor_value)),
                     edgecolor='none', zorder=2))
ax.scatter(noise_x, noise_y, s=9, marker='s', color=cmap(norm(noise_value)), linewidths=0, zorder=3)
island_color = cmap(norm(island_value))
for table in [islands_upper, islands_attractor, islands_right, islands_lower, islands_outer]:
    draw_islands(ax, table, island_color, 4)
draw_islands(ax, islands_hatched, '#2A0024', 4)

dashdot = (0, (17, 7, 5, 7))
ax.plot([-9, vline_solid_x], [rect_top_y, rect_top_y], color='white', lw=5.4, ls=dashdot, zorder=5)
ax.plot([-9, vline_solid_x], [rect_bottom_y, rect_bottom_y], color='white', lw=5.4, ls=dashdot, zorder=5)
ax.plot([rect_left_x, rect_left_x], [hline_solid_y, -9], color='white', lw=5.4, ls=dashdot, zorder=5)
ax.plot([rect_right_x, rect_right_x], [hline_solid_y, -9], color='white', lw=5.4, ls=dashdot, zorder=5)
ax.plot([vline_solid_x, vline_solid_x], [rect_top_y, rect_bottom_y], color='white', lw=3.6, zorder=6)
ax.plot([rect_left_x, rect_right_x], [hline_solid_y, hline_solid_y], color='white', lw=3.6, zorder=6)

ax.set_xticks(map_ticks)
ax.set_xticklabels(map_labels)
ax.set_yticks(map_ticks)
ax.set_yticklabels(map_labels)
ax.tick_params(axis='x', length=0, pad=28, labelsize=44, labelcolor=DARK)
ax.tick_params(axis='y', length=0, pad=18, labelsize=44, labelcolor=DARK)
nudge_labels(ax.get_yticklabels(), -2)

# colorbar
cax = fig.add_axes(place(2259, 96, 2307, 1571))
cb = fig.colorbar(ScalarMappable(norm=norm, cmap=cmap), cax=cax, ticks=cb_ticks)
cb.ax.set_yticklabels(cb_labels)
cb.outline.set_linewidth(2.3)
cb.outline.set_edgecolor(DARK)
cax.tick_params(axis='y', direction='in', right=True, left=False, length=9, width=2, color=DARK,
                labelsize=38, labelcolor=DARK, pad=15)
nudge_labels(cax.get_yticklabels(), -2)

# left panel
axl = fig.add_axes(place(220, 94, 511, 1572))
axl.set_xlim(-7, 5)
axl.set_ylim(2.2, -2.6)
frame(axl)
axl.fill_betweenx(band1_y, band1_left, 3.22, step='mid', color=GREEN, lw=0, zorder=2)
axl.fill_betweenx(band2_y, band2_left, 3.22, step='mid', color=GREEN, lw=0, zorder=2)
axl.fill_betweenx(neck_y, neck_left, neck_right, color=GREEN, lw=0, zorder=2)
axl.scatter(green_speck_x, green_speck_y, s=13, marker='s', color='#8CCB9A', linewidths=0, zorder=3)
axl.scatter(green_gap_x, green_gap_y, s=30, marker='s', color='#DDF0E2', linewidths=0, zorder=3)
axl.hlines(green_nub_y, 3.2, 3.32, color='#2E9A4E', lw=2.4, zorder=2)
for a, b in zip(green_top_start, green_top_end):
    axl.plot([a, b], [-2.6, green_y_top + 0.03], color=GREEN, lw=4, clip_on=False, zorder=2)
for a, b in zip(green_bot_start, green_bot_end):
    axl.plot([a, b], [green_y_bot - 0.03, 2.2], color=GREEN, lw=4, clip_on=False, zorder=2)
for a, b in green_row_top:
    axl.plot([a, b], [green_y_top, green_y_top], color=GREEN, lw=3, zorder=2)
for a, b in green_row_bot:
    axl.plot([a, b], [green_y_bot, green_y_bot], color=GREEN, lw=3, zorder=2)
axl.set_yticks(left_yticks)
axl.set_yticklabels(left_ylabels, rotation=-90, va='center')
axl.set_xticks(left_xticks)
axl.set_xticklabels(left_xlabels, rotation=-90, ha='center')
axl.tick_params(axis='y', direction='in', left=True, right=True, length=10, width=2, color=DARK,
                labelsize=42, labelcolor=DARK, pad=28)
axl.tick_params(axis='x', length=0, labelsize=42, labelcolor=DARK, pad=18)

# bottom panel
axb = fig.add_axes(place(632, 1712, 2228, 2026))
axb.set_xlim(-2.8, 3.2)
axb.set_ylim(-7, 5)
frame(axb)
for (x0, x1), bottom in zip([block1_x, block2_x, block3_x], [block1_bottom, block2_bottom, block3_bottom]):
    axb.fill_between(np.linspace(x0, x1, len(bottom)), bottom, block_top, step='mid', color=ROSE, lw=0, zorder=2)
axb.scatter(rose_speck_x, rose_speck_y, s=15, marker='s', color='#E8B8BD', linewidths=0, zorder=3)
axb.scatter(rose_nub_x, rose_nub_y, s=7, marker='s', color=ROSE, linewidths=0, zorder=2)
for a, b in zip(gap1_left, gap1_right):
    axb.plot([block1_x[1], block2_x[0]], [a, b], color=ROSE, lw=3, zorder=2)
for a, b in zip(gap2_left, gap2_right):
    axb.plot([block2_x[1], block3_x[0]], [a, b], color=ROSE, lw=3, zorder=2)
for a, b in zip(stub_left_a, stub_left_b):
    axb.plot([-2.81, block1_x[0]], [a, b], color=ROSE, lw=3, clip_on=False, zorder=2)
for a, b in zip(stub_right_a, stub_right_b):
    axb.plot([block3_x[1], 3.21], [a, b], color=ROSE, lw=3, clip_on=False, zorder=2)
axb.set_xticks(bot_xticks)
axb.set_xticklabels(bot_xlabels)
axb.set_yticks(bot_yticks)
axb.set_yticklabels(bot_ylabels)
axb.tick_params(axis='x', direction='in', top=True, bottom=True, length=11, width=2, color=DARK,
                labelsize=43, labelcolor=DARK, pad=30)
axb.tick_params(axis='y', length=0, labelsize=43, labelcolor=DARK, pad=20)

# axis names
fig.text(73 / W, 1 - 818 / H, r'$y$', fontsize=64, rotation=-90, ha='center', va='center', color='black')
fig.text(82 / W, 1 - 858 / H, '0', family='Liberation Serif', fontsize=36, rotation=-90, ha='center', va='center', color='black')
fig.text(372 / W, 1 - 1650 / H, r'$x$', fontsize=64, rotation=-90, ha='center', va='center', color='black')
fig.text(552 / W, 1 - 1859 / H, r'$x$', fontsize=64, ha='center', va='center', color='black')
fig.text(1413 / W, 1 - 2163 / H, r'$x$', fontsize=64, ha='center', va='center', color='black')
fig.text(1449 / W, 1 - 2172 / H, '0', family='Liberation Serif', fontsize=36, ha='center', va='center', color='black')

# orange connector guides
for xs, ys, gap in zip(guide_x, guide_y, guide_gap):
    fig.add_artist(Line2D([x / W for x in xs], [1 - y / H for y in ys], transform=fig.transFigure,
                          color=ORANGE, lw=5, dashes=(32, gap, 0.5, gap), dash_capstyle='round'))

fig.savefig('out.png', dpi=100)
